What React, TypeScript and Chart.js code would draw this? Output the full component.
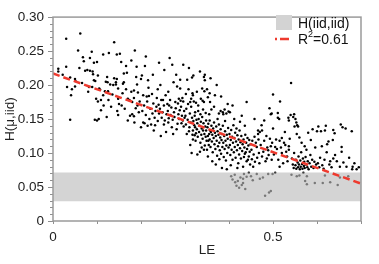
import React, { useEffect, useRef } from "react";
import { Chart, registerables } from "chart.js";
Chart.register(...registerables);

// ---- data (LE, H(mu,iid)) ----
const pointsA: [number, number][] = [
  [0.012,0.224],[0.012,0.220],[0.030,0.268],[0.030,0.227],[0.062,0.276],[0.057,0.251],[0.068,0.241],[0.088,0.249],
  [0.084,0.240],[0.073,0.221],[0.078,0.222],[0.084,0.221],[0.090,0.220],[0.091,0.216],[0.093,0.233],[0.050,0.209],
  [0.051,0.206],[0.039,0.211],[0.032,0.197],[0.043,0.194],[0.041,0.185],[0.050,0.198],[0.082,0.197],[0.089,0.197],
  [0.093,0.207],[0.096,0.206],[0.039,0.149],[0.098,0.180],[0.066,0.203],[0.070,0.235],[0.022,0.215],[0.080,0.190],
  [0.095,0.149],[0.060,0.225],
];
const pointsB: [number, number][] = [
  [0.100,0.234],[0.114,0.245],[0.127,0.247],[0.139,0.263],[0.145,0.245],[0.152,0.246],[0.155,0.234],[0.166,0.228],
  [0.161,0.217],[0.168,0.218],[0.102,0.214],[0.123,0.212],[0.120,0.205],[0.124,0.204],[0.139,0.210],[0.145,0.209],
  [0.143,0.204],[0.105,0.195],[0.107,0.193],[0.118,0.191],[0.125,0.191],[0.130,0.201],[0.137,0.200],[0.143,0.201],
  [0.148,0.195],[0.159,0.202],[0.161,0.204],[0.166,0.194],[0.148,0.180],[0.170,0.180],[0.173,0.178],[0.102,0.176],
  [0.109,0.178],[0.100,0.148],[0.104,0.150],[0.122,0.153],[0.109,0.163],[0.146,0.162],[0.148,0.156],[0.186,0.251],
  [0.178,0.236],[0.190,0.227],[0.189,0.212],[0.191,0.201],[0.178,0.190],[0.184,0.192],[0.193,0.189],[0.175,0.177],
  [0.180,0.175],[0.184,0.181],[0.175,0.155],[0.180,0.157],[0.184,0.154],[0.132,0.168],[0.156,0.170],[0.163,0.165],
  [0.188,0.166],[0.195,0.160],[0.170,0.148],[0.185,0.145],[0.192,0.170],[0.114,0.185],[0.135,0.186],[0.158,0.188],
  [0.197,0.176],[0.126,0.178],[0.150,0.172],[0.115,0.170],
];
const pointsC: [number, number][] = [
  [0.211,0.242],[0.202,0.214],[0.200,0.209],[0.216,0.207],[0.238,0.194],[0.225,0.187],[0.205,0.185],[0.213,0.183],
  [0.218,0.184],[0.246,0.178],[0.250,0.178],[0.271,0.230],[0.274,0.204],[0.282,0.198],[0.289,0.195],[0.278,0.175],
  [0.284,0.173],[0.290,0.177],[0.294,0.181],[0.296,0.176],[0.286,0.180],[0.260,0.172],[0.264,0.170],[0.235,0.168],
  [0.240,0.171],[0.245,0.125],[0.200,0.138],[0.208,0.144],[0.215,0.140],[0.223,0.142],[0.205,0.145],[0.232,0.141],
  [0.252,0.142],[0.262,0.145],[0.270,0.138],[0.283,0.143],[0.292,0.144],[0.297,0.139],[0.203,0.162],[0.207,0.170],
  [0.211,0.156],[0.214,0.176],[0.219,0.150],[0.221,0.165],[0.226,0.158],[0.228,0.173],[0.231,0.152],[0.233,0.162],
  [0.236,0.181],[0.238,0.147],[0.241,0.158],[0.243,0.165],[0.247,0.152],[0.249,0.160],[0.252,0.170],[0.254,0.148],
  [0.256,0.185],[0.258,0.157],[0.261,0.162],[0.263,0.151],[0.266,0.178],[0.267,0.156],[0.269,0.167],[0.272,0.149],
  [0.275,0.160],[0.276,0.153],[0.279,0.166],[0.281,0.135],[0.285,0.157],[0.287,0.150],[0.288,0.163],[0.291,0.168],
  [0.293,0.155],[0.295,0.148],[0.298,0.162],[0.299,0.152],[0.229,0.133],[0.257,0.131],[0.273,0.128],[0.217,0.196],
  [0.244,0.200],[0.262,0.190],[0.289,0.208],[0.227,0.215],[0.253,0.222],[0.265,0.240],[0.241,0.233],[0.280,0.215],
  [0.209,0.228],[0.296,0.230],
];
const pointsD: [number, number][] = [
  [0.309,0.225],[0.316,0.211],[0.305,0.208],[0.334,0.220],[0.343,0.212],[0.308,0.194],[0.314,0.180],[0.318,0.185],
  [0.336,0.180],[0.343,0.175],[0.319,0.214],[0.345,0.215],[0.345,0.207],[0.344,0.191],[0.317,0.188],[0.320,0.176],
  [0.325,0.174],[0.340,0.177],[0.312,0.112],[0.318,0.120],[0.322,0.126],[0.325,0.129],[0.334,0.102],[0.338,0.108],
  [0.343,0.105],[0.318,0.133],[0.323,0.138],[0.302,0.142],[0.310,0.138],[0.323,0.160],[0.330,0.162],[0.335,0.157],
  [0.341,0.164],[0.347,0.159],[0.301,0.155],[0.303,0.165],[0.306,0.149],[0.307,0.172],[0.309,0.132],[0.311,0.158],
  [0.313,0.145],[0.314,0.168],[0.316,0.152],[0.317,0.127],[0.319,0.147],[0.321,0.141],[0.322,0.155],[0.324,0.118],
  [0.326,0.149],[0.327,0.135],[0.328,0.144],[0.329,0.124],[0.331,0.150],[0.332,0.131],[0.333,0.140],[0.335,0.115],
  [0.336,0.146],[0.337,0.127],[0.338,0.136],[0.339,0.153],[0.340,0.121],[0.341,0.133],[0.342,0.144],[0.344,0.128],
  [0.345,0.111],[0.346,0.139],[0.347,0.124],[0.348,0.148],[0.349,0.118],[0.330,0.170],[0.312,0.175],[0.304,0.128],
  [0.315,0.100],[0.328,0.098],[0.348,0.133],[0.302,0.187],[0.327,0.190],[0.339,0.195],
];
const pointsE: [number, number][] = [
  [0.352,0.095],[0.350,0.105],[0.353,0.118],[0.355,0.128],[0.357,0.133],[0.357,0.175],[0.350,0.194],[0.352,0.182],
  [0.356,0.188],[0.382,0.183],[0.387,0.157],[0.390,0.164],[0.394,0.158],[0.399,0.161],[0.377,0.158],[0.381,0.162],
  [0.386,0.160],[0.384,0.078],[0.395,0.076],[0.360,0.164],[0.355,0.157],[0.351,0.138],[0.352,0.125],[0.353,0.143],
  [0.354,0.112],[0.356,0.120],[0.356,0.148],[0.358,0.109],[0.359,0.131],[0.360,0.140],[0.361,0.117],[0.362,0.127],
  [0.363,0.101],[0.364,0.136],[0.365,0.122],[0.366,0.145],[0.367,0.113],[0.368,0.130],[0.369,0.106],[0.370,0.125],
  [0.371,0.139],[0.372,0.118],[0.373,0.096],[0.374,0.132],[0.375,0.110],[0.376,0.127],[0.377,0.142],[0.378,0.115],
  [0.379,0.104],[0.380,0.123],[0.381,0.135],[0.382,0.099],[0.383,0.119],[0.384,0.128],[0.385,0.109],[0.386,0.140],
  [0.387,0.115],[0.388,0.094],[0.389,0.125],[0.390,0.106],[0.391,0.132],[0.392,0.118],[0.393,0.089],[0.394,0.111],
  [0.395,0.127],[0.396,0.100],[0.397,0.121],[0.398,0.137],[0.399,0.108],[0.362,0.088],[0.370,0.083],[0.378,0.091],
  [0.366,0.168],[0.374,0.150],[0.391,0.147],[0.358,0.210],[0.372,0.200],[0.368,0.185],[0.397,0.172],
];
const pointsF: [number, number][] = [
  [0.402,0.160],[0.429,0.155],[0.440,0.175],[0.417,0.136],[0.432,0.080],[0.440,0.088],[0.445,0.095],[0.436,0.099],
  [0.448,0.083],[0.401,0.128],[0.402,0.112],[0.403,0.097],[0.404,0.119],[0.405,0.134],[0.406,0.105],[0.407,0.124],
  [0.408,0.090],[0.409,0.115],[0.410,0.141],[0.411,0.101],[0.412,0.122],[0.413,0.109],[0.414,0.130],[0.415,0.093],
  [0.416,0.117],[0.418,0.104],[0.419,0.126],[0.420,0.112],[0.421,0.085],[0.422,0.120],[0.423,0.098],[0.424,0.133],
  [0.425,0.107],[0.426,0.116],[0.427,0.092],[0.428,0.125],[0.430,0.103],[0.431,0.113],[0.433,0.120],[0.434,0.094],
  [0.435,0.108],[0.437,0.127],[0.438,0.101],[0.439,0.115],[0.441,0.106],[0.442,0.122],[0.443,0.090],[0.444,0.111],
  [0.446,0.119],[0.447,0.102],[0.449,0.113],[0.412,0.150],[0.425,0.146],[0.408,0.170],[0.436,0.140],[0.419,0.078],
  [0.404,0.082],[0.405,0.066],[0.408,0.061],[0.413,0.068],[0.417,0.052],[0.420,0.059],[0.423,0.049],[0.429,0.053],
  [0.432,0.056],[0.432,0.062],[0.434,0.069],[0.440,0.065],[0.445,0.071],[0.426,0.064],[0.414,0.057],[0.437,0.047],
];
const pointsG: [number, number][] = [
  [0.450,0.066],[0.454,0.060],[0.463,0.069],[0.470,0.062],[0.477,0.064],[0.489,0.069],[0.499,0.069],[0.495,0.044],
  [0.482,0.037],[0.491,0.042],[0.466,0.128],[0.470,0.131],[0.475,0.133],[0.466,0.133],[0.495,0.157],[0.492,0.166],
  [0.497,0.158],[0.463,0.109],[0.468,0.100],[0.475,0.095],[0.486,0.092],[0.489,0.104],[0.495,0.110],[0.452,0.091],
  [0.455,0.080],[0.451,0.105],[0.453,0.118],[0.456,0.098],[0.458,0.124],[0.459,0.087],[0.461,0.115],[0.464,0.093],
  [0.467,0.120],[0.469,0.085],[0.472,0.112],[0.474,0.141],[0.478,0.102],[0.480,0.118],[0.483,0.088],[0.485,0.125],
  [0.487,0.108],[0.490,0.097],[0.493,0.121],[0.497,0.090],[0.498,0.115],[0.458,0.150],[0.480,0.148],
];
const pointsH: [number, number][] = [
  [0.500,0.186],[0.516,0.176],[0.541,0.203],[0.514,0.150],[0.511,0.152],[0.511,0.159],[0.535,0.152],[0.540,0.156],
  [0.546,0.153],[0.536,0.148],[0.500,0.136],[0.527,0.131],[0.505,0.109],[0.515,0.118],[0.520,0.122],[0.528,0.112],
  [0.536,0.110],[0.509,0.106],[0.520,0.100],[0.532,0.095],[0.536,0.105],[0.505,0.071],[0.542,0.068],[0.502,0.098],
  [0.507,0.120],[0.512,0.090],[0.518,0.108],[0.523,0.085],[0.525,0.115],[0.530,0.102],[0.533,0.088],[0.538,0.121],
  [0.543,0.092],[0.545,0.083],[0.548,0.100],[0.549,0.139],[0.547,0.078],[0.515,0.080],
];
const pointsI: [number, number][] = [
  [0.548,0.157],[0.551,0.150],[0.553,0.145],[0.555,0.141],[0.557,0.139],[0.554,0.128],[0.580,0.130],[0.554,0.066],
  [0.560,0.067],[0.569,0.071],[0.577,0.066],[0.573,0.059],[0.577,0.054],[0.595,0.056],[0.551,0.082],[0.552,0.090],
  [0.553,0.077],[0.556,0.086],[0.557,0.079],[0.558,0.095],[0.559,0.083],[0.561,0.076],[0.562,0.089],[0.563,0.080],
  [0.564,0.101],[0.566,0.084],[0.567,0.077],[0.568,0.092],[0.570,0.081],[0.571,0.087],[0.572,0.078],[0.574,0.094],
  [0.575,0.083],[0.576,0.105],[0.578,0.079],[0.579,0.088],[0.581,0.076],[0.583,0.085],[0.585,0.097],[0.587,0.080],
  [0.589,0.090],[0.592,0.078],[0.594,0.087],[0.596,0.108],[0.598,0.083],[0.565,0.115],[0.572,0.110],[0.586,0.119],
  [0.560,0.123],[0.590,0.135],
];
const pointsJ: [number, number][] = [
  [0.600,0.132],[0.603,0.139],[0.609,0.132],[0.618,0.133],[0.637,0.134],[0.654,0.142],[0.658,0.138],[0.679,0.132],
  [0.636,0.119],[0.626,0.117],[0.623,0.113],[0.622,0.101],[0.611,0.110],[0.656,0.109],[0.656,0.102],[0.637,0.092],
  [0.630,0.088],[0.645,0.088],[0.628,0.083],[0.652,0.080],[0.667,0.080],[0.681,0.080],[0.690,0.076],[0.680,0.076],
  [0.613,0.056],[0.630,0.057],[0.647,0.053],[0.652,0.064],[0.671,0.066],[0.618,0.067],[0.620,0.140],[0.640,0.129],
  [0.665,0.136],[0.602,0.085],[0.605,0.079],[0.607,0.093],[0.612,0.082],[0.615,0.077],[0.617,0.090],[0.633,0.079],
  [0.641,0.097],[0.660,0.086],[0.673,0.093],[0.685,0.085],[0.695,0.079],
];

const fitX = [0, 0.7];
const fitY = [0.217, 0.055];
const bandX = [0, 0.7];
const bandLow = 0.029;
const bandHigh = 0.0715;
const xLabels: Record<string, string> = { "0": "0", "5": "0.5" };
const legendBand = "H(iid,iid)";
const legendFit = "0.61";
const xTitle = "LE";
const yTitle = "H(μ,iid)";

const FONT = "'Liberation Sans', Arial, sans-serif";
const AXIS_GRAY = "#8f8f8f";
const RED = "#ee3a2e";

export default function App() {
  const ref = useRef<HTMLCanvasElement | null>(null);
  useEffect(() => {
    if (!ref.current) return;
    const all = [pointsA, pointsB, pointsC, pointsD, pointsE, pointsF, pointsG, pointsH, pointsI, pointsJ]
      .flat()
      .map(([x, y]) => ({ x, y }));

    const decor = {
      id: "decor",
      afterDraw(chart: any) {
        const { ctx, chartArea: a, scales } = chart;
        ctx.save();
        // ticks
        ctx.strokeStyle = AXIS_GRAY;
        ctx.lineWidth = 1;
        for (const t of scales.y.ticks) {
          const py = Math.round(scales.y.getPixelForValue(t.value)) + 0.5;
          const major = Math.round(t.value * 100) % 5 === 0;
          const len = major ? 5 : 3;
          ctx.beginPath();
          ctx.moveTo(a.left - len, py);
          ctx.lineTo(a.left, py);
          ctx.stroke();
        }
        for (const t of scales.x.ticks) {
          const px = Math.round(scales.x.getPixelForValue(t.value)) + 0.5;
          ctx.beginPath();
          ctx.moveTo(px, a.bottom);
          ctx.lineTo(px, a.bottom + 3);
          ctx.stroke();
        }
        // frame
        ctx.strokeStyle = "#9a9a9a";
        ctx.lineWidth = 1.5;
        ctx.strokeRect(a.left, a.top, a.right - a.left, a.bottom - a.top);

        // legend
        const lx = a.right - 85;
        ctx.fillStyle = "#d3d3d3";
        ctx.fillRect(lx, 15, 16, 15);
        ctx.fillStyle = "#111";
        ctx.font = `14px ${FONT}`;
        ctx.textBaseline = "alphabetic";
        ctx.textAlign = "left";
        ctx.fillText(legendBand, lx + 22, 27.5);
        ctx.strokeStyle = RED;
        ctx.lineWidth = 2.5;
        ctx.setLineDash([2, 3, 9, 30]);
        ctx.beginPath();
        ctx.moveTo(lx - 1, 39);
        ctx.lineTo(lx + 15, 39);
        ctx.stroke();
        ctx.setLineDash([]);
        let tx = lx + 22;
        ctx.fillText("R", tx, 44);
        tx += ctx.measureText("R").width;
        ctx.font = `9px ${FONT}`;
        ctx.fillText("2", tx, 37);
        tx += ctx.measureText("2").width;
        ctx.font = `14px ${FONT}`;
        ctx.fillText("=" + legendFit, tx, 44);
        ctx.restore();
      },
    };

    const chart = new Chart(ref.current, {
      type: "scatter",
      data: {
        datasets: [
          {
            type: "line",
            label: legendBand,
            data: bandX.map((x) => ({ x, y: bandHigh })),
            showLine: true,
            borderWidth: 0,
            borderColor: "rgba(0,0,0,0)",
            pointRadius: 0,
            backgroundColor: "rgba(187,187,187,0.64)",
            fill: { target: { value: bandLow } },
            order: 0,
          } as any,
          {
            label: "points",
            data: all,
            pointRadius: 1.25,
            pointHoverRadius: 1.25,
            borderWidth: 0,
            backgroundColor: "#000",
            order: 2,
          },
          {
            type: "line",
            label: "fit",
            data: fitX.map((x, i) => ({ x, y: fitY[i] })),
            showLine: true,
            borderColor: RED,
            borderWidth: 2.5,
            borderDash: [7, 4],
            pointRadius: 0,
            fill: false,
            order: -1,
          } as any,
        ],
      },
      options: {
        responsive: false,
        animation: false,
        layout: { padding: { top: 12, right: 18, left: 0, bottom: 0 } },
        plugins: { legend: { display: false }, tooltip: { enabled: false } },
        scales: {
          x: {
            type: "linear",
            min: 0,
            max: 0.7,
            afterFit: (s: any) => {
              s.height = 43;
            },
            grid: { display: false, drawTicks: false },
            border: { display: false },
            ticks: {
              stepSize: 0.1,
              autoSkip: false,
              maxRotation: 0,
              padding: 8,
              color: "#222",
              font: { family: FONT, size: 13.5 },
              callback: (v: any) => xLabels[String(Math.round(Number(v) * 10))] ?? "",
            },
            title: {
              display: true,
              text: xTitle,
              color: "#222",
              font: { family: FONT, size: 13.5 },
              padding: { top: 0, bottom: 5.4 },
            },
          },
          y: {
            min: 0,
            max: 0.3,
            afterFit: (s: any) => {
              s.width = 53;
            },
            grid: { display: false, drawTicks: false },
            border: { display: false },
            ticks: {
              stepSize: 0.01,
              autoSkip: false,
              padding: 9,
              color: "#222",
              font: { family: FONT, size: 13.5 },
              callback: (v: any) => {
                const n = Math.round(Number(v) * 100);
                if (n % 5 !== 0) return "";
                return n === 0 ? "0" : (n / 100).toFixed(2);
              },
            },
            title: {
              display: true,
              text: yTitle,
              color: "#222",
              font: { family: FONT, size: 13.5 },
              padding: { top: 2, bottom: 0 },
            },
          },
        },
      },
      plugins: [decor],
    });
    return () => chart.destroy();
  }, []);

  return (
    <div style={{ position: "absolute", left: 0, top: 0, width: 379, height: 264, background: "#fff" }}>
      <canvas ref={ref} width={379} height={264} style={{ display: "block" }} />
    </div>
  );
}
